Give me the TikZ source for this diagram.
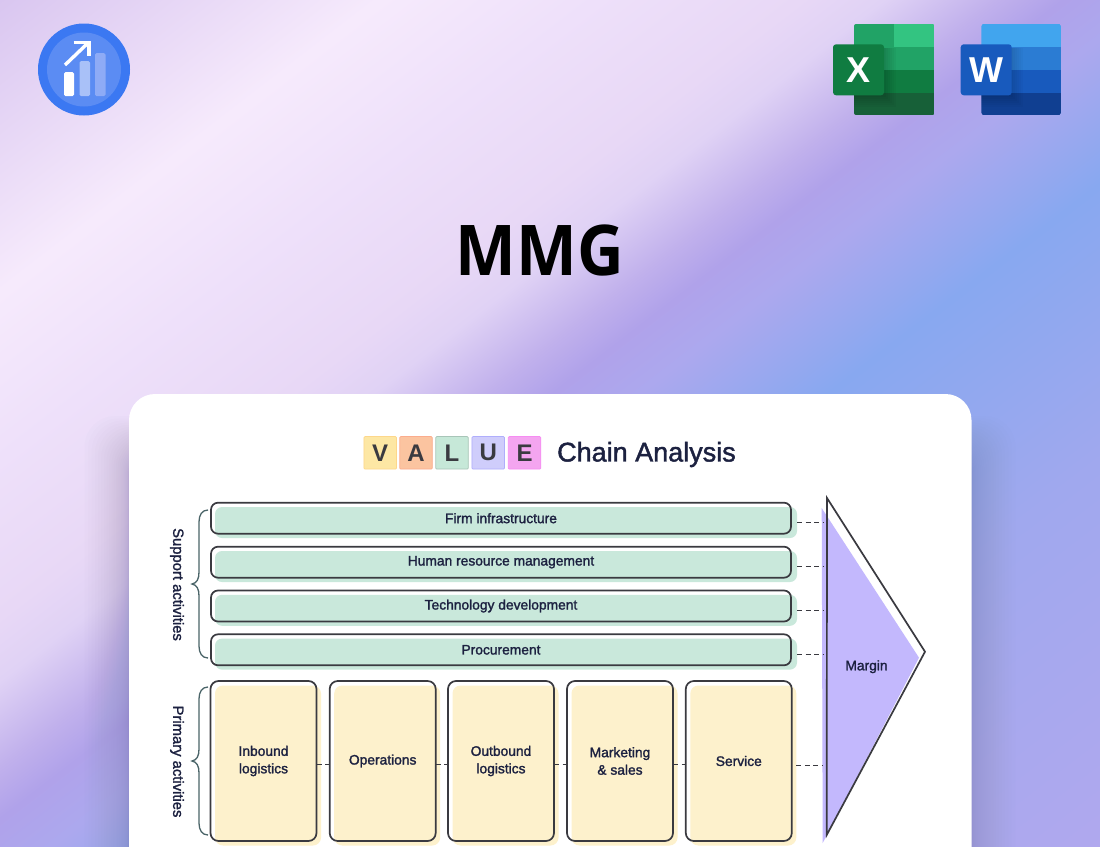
\documentclass[tikz,border=0pt]{standalone}
\usepackage{fontspec}
\setmainfont{Liberation Sans}
\newfontfamily\chartfont[FakeBold=1.6]{Liberation Sans}
\newfontfamily\titlefont{Open Sans}

\definecolor{inkline}{HTML}{3A3A40}
\definecolor{inktext}{HTML}{1C2140}
\definecolor{bracegray}{HTML}{4A6468}
\definecolor{barfill}{HTML}{C9E8DB}
\definecolor{boxfill}{HTML}{FDF1CC}
\definecolor{marginfill}{HTML}{C3B8FD}
\definecolor{cardshade}{HTML}{6A6AA0}
\definecolor{logoout}{HTML}{3B78F2}
\definecolor{logoin}{HTML}{5B8CF3}
\definecolor{logobartwo}{HTML}{A9C1F8}
\definecolor{logobarthree}{HTML}{8EABF6}
\definecolor{xlone}{HTML}{21A366}
\definecolor{xltwo}{HTML}{33C481}
\definecolor{xlthree}{HTML}{107C41}
\definecolor{xlfour}{HTML}{185C37}
\definecolor{wdone}{HTML}{41A5EE}
\definecolor{wdtwo}{HTML}{2B7CD3}
\definecolor{wdthree}{HTML}{185ABD}
\definecolor{wdfour}{HTML}{103F91}
\definecolor{tilev}{HTML}{FDE7A4}
\definecolor{tilea}{HTML}{FBC4A0}
\definecolor{tilel}{HTML}{C6E8D8}
\definecolor{tileu}{HTML}{CFCDFB}
\definecolor{tilee}{HTML}{F4A5F0}

\pgfdeclarehorizontalshading{bgwash}{100bp}{%
   rgb(0bp)=(.851,.776,.941);
   rgb(26bp)=(.851,.776,.941);
   rgb(34.3bp)=(.965,.918,.988);
   rgb(39.1bp)=(.933,.878,.98);
   rgb(43.5bp)=(.91,.847,.965);
   rgb(45.3bp)=(.878,.824,.961);
   rgb(47.8bp)=(.753,.69,.925);
   rgb(49.2bp)=(.69,.635,.918);
   rgb(51.1bp)=(.675,.659,.933);
   rgb(55.2bp)=(.533,.659,.941);
   rgb(63bp)=(.627,.659,.933);
   rgb(74bp)=(.69,.659,.933);
   rgb(100bp)=(.69,.659,.933)}

\tikzset{
   barshape/.style={rectangle,rounded corners=7,inner sep=0,outer sep=0,minimum width=580,minimum height=31},
   barback/.style={barshape,fill=barfill,minimum width=582},
   barfront/.style={barshape,draw=inkline,line width=1.7,text=inktext,font=\chartfont\fontsize{13.8}{17}\selectfont},
   boxshape/.style={rectangle,rounded corners=8,inner sep=0,outer sep=0,minimum width=106,minimum height=160},
   boxback/.style={boxshape,fill=boxfill},
   boxfront/.style={boxshape,draw=inkline,line width=1.7,text=inktext,align=center,font=\chartfont\fontsize{13.8}{17.5}\selectfont},
   linkline/.style={draw=inkline,line width=1,dash pattern=on 5 off 3.5},
   sidelabel/.style={rotate=-90,text=inktext,font=\chartfont\fontsize{14.8}{16}\selectfont},
   bracket/.style={draw=bracegray,line width=1.3},
   tile/.style={rectangle,rounded corners=1,inner sep=0,outer sep=0,minimum width=32.5,minimum height=32.5,
      line width=.7,text=inkline,font=\bfseries\fontsize{24}{24}\selectfont},
   frontsquare/.style={rectangle,rounded corners=3,inner sep=0,outer sep=0,minimum width=51,minimum height=51,
      text=white,font=\bfseries\fontsize{36}{36}\selectfont}
}

\begin{document}
\begin{tikzpicture}[x=1pt,y=-1pt]
   \useasboundingbox (0,0) rectangle (1100,846);
   \clip (0,0) rectangle (1100,846);

   % background
   \path[shading=bgwash,transform canvas={shift={(550,423)},rotate=-52.4}] (-700,-700) rectangle (700,700);
   \foreach \i in {1,...,24}
      \fill[cardshade,opacity=.014,rounded corners=30] ({129-\i*\i/13},{445-\i*\i/20}) rectangle ({971+\i*\i/13},900);

   % logo
   \fill[logoout] (84,69.5) circle (46);
   \fill[logoin] (84,69.5) circle (37);
   \fill[white,rounded corners=1.5] (64,72) rectangle (74,96);
   \fill[logobartwo,rounded corners=1.5] (79.5,61) rectangle (90,96);
   \fill[logobarthree,rounded corners=1.5] (95,53) rectangle (105.5,96);
   \draw[white,line width=3.4] (65,65) -- (88.5,42.5);
   \draw[white,line width=3.4] (73.5,42.5) -- (89,42.5) -- (89,56);

   % excel
   \begin{scope}
      \clip[rounded corners=3] (853.7,23.7) rectangle (934.7,115.3);
      \fill[xlone] (853.7,23.7) rectangle (894,46.6);
      \fill[xltwo] (894,23.7) rectangle (934.7,46.6);
      \fill[xlone] (853.7,46.6) rectangle (934.7,69.5);
      \fill[xlthree] (853.7,69.5) rectangle (934.7,92.5);
      \fill[xlfour!88!xlthree] (853.7,92.5) rectangle (934.7,115.3);
      \foreach \i in {0,2,...,10}
         \fill[black,opacity=.03] (853.7,48) rectangle ({896-\i},{107-\i});
   \end{scope}
   \node[frontsquare,fill=xlthree] (excel) at (858.5,69.8) {X};

   % word
   \begin{scope}
      \clip[rounded corners=3] (981.3,23.7) rectangle (1061.3,115.3);
      \fill[wdone] (981.3,23.7) rectangle (1061.3,46.6);
      \fill[wdtwo] (981.3,46.6) rectangle (1061.3,69.5);
      \fill[wdthree] (981.3,69.5) rectangle (1061.3,92.5);
      \fill[wdfour] (981.3,92.5) rectangle (1061.3,115.3);
      \foreach \i in {0,2,...,10}
         \fill[black,opacity=.025] (981.3,48) rectangle ({1023-\i},{107-\i});
   \end{scope}
   \node[frontsquare,fill=wdthree] (word) at (986.2,69.8) {W};

   % title
   \node[inner sep=0,xscale=.92] (maintitle) at (540,250) {\titlefont\bfseries\fontsize{70}{70}\selectfont MMG};

   % card
   \fill[white,rounded corners=26] (129,394) rectangle (971.5,900);

   % heading
   \node[tile,fill=tilev,draw=tilev!85!orange] (lettv) at (380.2,452.8) {V};
   \node[tile,fill=tilea,draw=tilea!88!red] (letta) at (416,452.8) {A};
   \node[tile,fill=tilel,draw=tilel!85!black] (lettl) at (452,452.8) {L};
   \node[tile,fill=tileu,draw=tileu!85!blue] (lettu) at (488.2,452.8) {U};
   \node[tile,fill=tilee,draw=tilee!85!magenta] (lette) at (524.5,452.8) {E};
   \node[anchor=west,inner sep=0,text=inktext] (heading) at (557,454.5) {\chartfont\fontsize{27}{30}\selectfont Chain Analysis};

   % margin arrow
   \fill[marginfill] (821.7,508) -- (919,657.7) -- (822.7,843) -- cycle;
   \coordinate (margintop) at (827,498);
   \coordinate (margintip) at (925,651.7);
   \coordinate (marginend) at (826.7,835);
   \coordinate (marginedge) at (822.7,650);
   \draw[inkline,line width=1.7,line join=miter] (margintop) -- (margintip) -- (marginend) -- cycle;
   \node[text=inktext,inner sep=0,font=\chartfont\fontsize{13.8}{17}\selectfont] (margin) at (866.5,666.7) {Margin};

   % support activities
   \foreach \name/\ypos/\label in {firm/518.2/Firm infrastructure,human/562.2/Human resource management,
         tech/606/Technology development,proc/649.8/Procurement} {
      \node[barback] (\name-back) at (506,\ypos+4.3) {};
      \node[barfront] (\name) at (501,\ypos) {\label};
      \draw[linkline] (\name-back.east) -- (\name-back.east -| marginedge);
   }

   % primary activities
   \foreach \name/\xpos/\label in {inbound/263.5/Inbound\\logistics,ops/382.7/Operations,
         outbound/501/Outbound\\logistics,sales/620/Marketing\\\& sales,service/738.8/Service} {
      \node[boxback] (\name-back) at (\xpos+4.5,765.5) {};
      \node[boxfront] (\name) at (\xpos,761) {\label};
   }
   \foreach \a/\b in {inbound/ops,ops/outbound,outbound/sales,sales/service}
      \draw[linkline] ([yshift=-3]\a.east) -- ([yshift=-3]\b.west);
   \draw[linkline] (service-back.east) -- (service-back.east -| marginedge);

   % braces
   \draw[bracket] (208,510) .. controls (202,510) and (199,515) .. (199,522) -- (199,572)
      .. controls (199,579) and (197,583) .. (192,584) .. controls (197,585) and (199,589) .. (199,596)
      -- (199,646) .. controls (199,653) and (202,658) .. (208,658);
   \draw[bracket] (208,687) .. controls (202,687) and (199,692) .. (199,699) -- (199,749)
      .. controls (199,756) and (197,760) .. (192,761) .. controls (197,762) and (199,766) .. (199,773)
      -- (199,823) .. controls (199,830) and (202,835) .. (208,835);
   \node[sidelabel,inner sep=0] (supportlabel) at (177,584.5) {Support activities};
   \node[sidelabel,inner sep=0] (primarylabel) at (177,761.5) {Primary activities};
\end{tikzpicture}
\end{document}
